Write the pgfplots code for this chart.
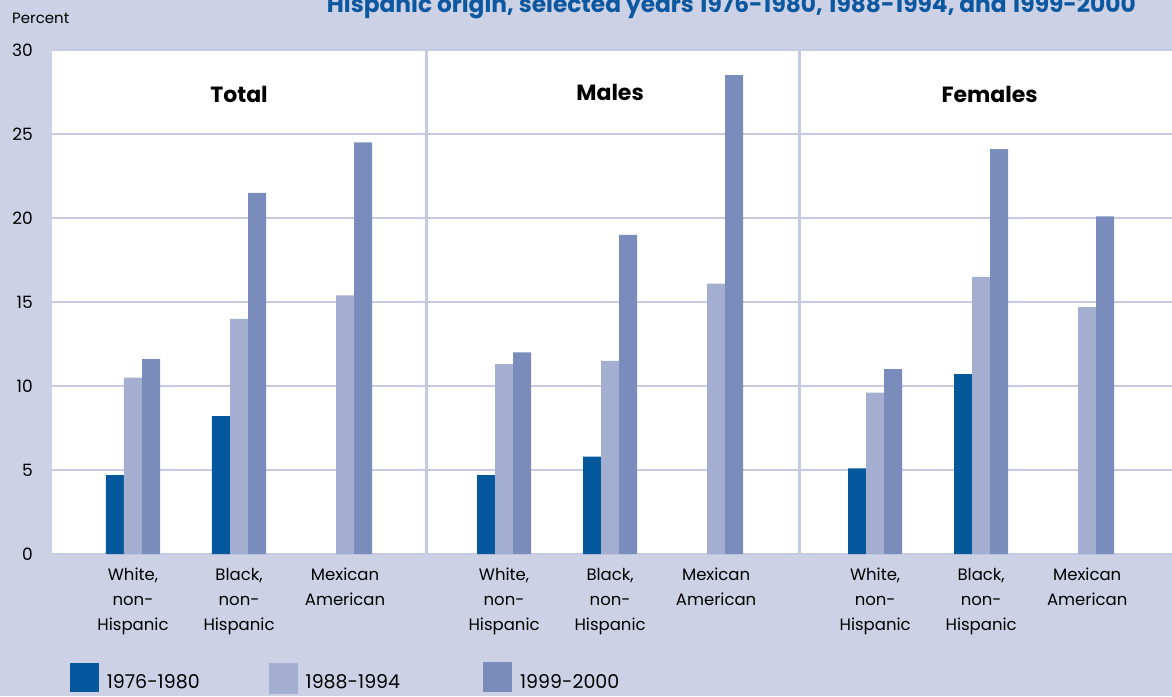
\documentclass[border=0pt]{standalone}
\usepackage{pgfplots}
\pgfplotsset{compat=1.18}
\usepackage{fontspec}
\setmainfont{Poppins}
\definecolor{bg}{RGB}{205,209,229}
\definecolor{gridc}{RGB}{198,202,226}
\definecolor{cA}{RGB}{4,88,155}
\definecolor{cB}{RGB}{164,174,208}
\definecolor{cC}{RGB}{122,140,187}
\definecolor{tc}{RGB}{12,88,160}
\begin{document}
\begin{tikzpicture}[x=1pt,y=1pt]
\useasboundingbox (0,0) rectangle (1172,696);
\fill[bg] (0,0) rectangle (1172,696);
\node[anchor=base east, font=\fontsize{23.3}{27}\selectfont\bfseries, text=tc, inner sep=0] at (1136,683) {Hispanic origin, selected years 1976-1980, 1988-1994, and 1999-2000};
\node[anchor=base west, font=\fontsize{15}{18}\selectfont, inner sep=0] at (12,672) {Percent};
\begin{axis}[
  at={(52pt,142pt)}, anchor=south west,
  scale only axis, width=1120pt, height=504pt,
  xmin=0.236, xmax=10.80, ymin=0, ymax=30,
  axis background/.style={fill=white},
  axis line style={draw=none},
  major tick length=0pt,
  /pgf/number format/assume math mode=true,
  ytick={0,5,10,15,20,25,30},
  ymajorgrids, grid style={gridc, line width=2pt},
  yticklabel style={font=\fontsize{17}{20}\selectfont, anchor=east, inner sep=0pt, xshift=-19pt},
  xtick={1,2,3,4.5,5.5,6.5,8,9,10},
  xticklabels={{White,\\non-\\Hispanic},{Black,\\non-\\Hispanic},{Mexican\\American},
               {White,\\non-\\Hispanic},{Black,\\non-\\Hispanic},{Mexican\\American},
               {White,\\non-\\Hispanic},{Black,\\non-\\Hispanic},{Mexican\\American}},
  xticklabel style={font=\fontsize{16.5}{25}\selectfont, align=center, anchor=north, inner sep=0pt, yshift=-14pt},
  legend columns=3,
  legend style={at={(0.013,-0.246)}, anchor=west, draw=none, fill=none,
     font=\fontsize{19}{22}\selectfont,
     /tikz/every odd column/.append style={column sep=6pt},
     /tikz/every even column/.append style={column sep=67pt}},
]
\addplot[ybar, bar width=0.17, bar shift=-0.17, fill=cA, draw=none,
  legend image code/.code={\fill[cA] (0pt,-10pt) rectangle (29pt,19pt);}]
  coordinates {(1,4.7) (2,8.2) (4.5,4.7) (5.5,5.8) (8,5.1) (9,10.7)};
\addlegendentry{1976-1980}
\addplot[ybar, bar width=0.17, bar shift=0, fill=cB, draw=none,
  legend image code/.code={\fill[cB] (0pt,-12pt) rectangle (29pt,19pt);}]
  coordinates {(1,10.5) (2,14.0) (3,15.4) (4.5,11.3) (5.5,11.5) (6.5,16.1) (8,9.6) (9,16.5) (10,14.7)};
\addlegendentry{1988-1994\rule{14pt}{0pt}}
\addplot[ybar, bar width=0.17, bar shift=0.17, fill=cC, draw=none,
  legend image code/.code={\fill[cC] (0pt,-10pt) rectangle (29pt,20pt);}]
  coordinates {(1,11.6) (2,21.5) (3,24.5) (4.5,12.0) (5.5,19.0) (6.5,28.5) (8,11.0) (9,24.1) (10,20.1)};
\addlegendentry{1999-2000}
\draw[gridc, line width=3pt] (axis cs:3.764,0) -- (axis cs:3.764,30);
\draw[gridc, line width=3pt] (axis cs:7.29,0) -- (axis cs:7.29,30);
\node[font=\fontsize{22}{26}\selectfont\bfseries, anchor=base] at (axis cs:2,26.85) {Total};
\node[font=\fontsize{22}{26}\selectfont\bfseries, anchor=base] at (axis cs:5.5,27.02) {Males};
\node[font=\fontsize{22}{26}\selectfont\bfseries, anchor=base] at (axis cs:9.08,26.85) {Females};
\end{axis}
\end{tikzpicture}
\end{document}
